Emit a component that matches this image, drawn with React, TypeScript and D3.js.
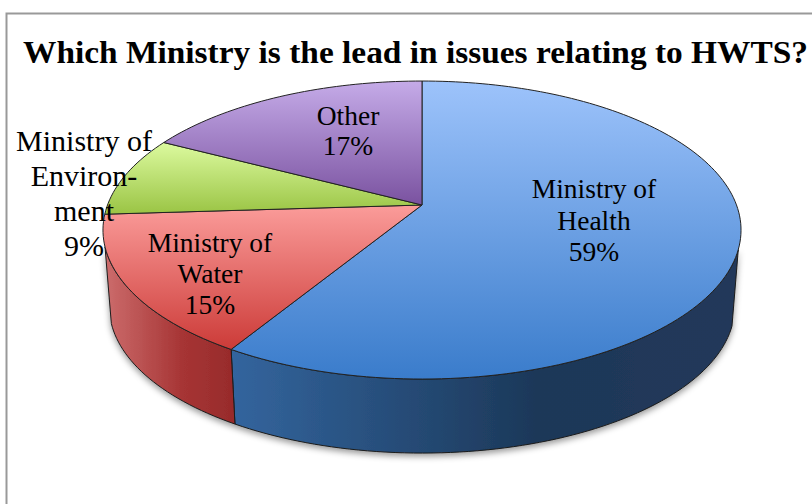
import React from "react";
import * as d3 from "d3";

const categories = ["Ministry of Health", "Ministry of Water", "Ministry of Environment", "Other"];
// the labels show them rounded
const values = [58.7, 15.3, 8.7, 17.3];
const labelLines = [["Ministry of", "Health"], ["Ministry of", "Water"], ["Ministry of", "Environ-", "ment"], ["Other"]];
const labelAnchors = [
  { x: 594, y: 198, step: 31.5, size: 27.5 },
  { x: 210, y: 252, step: 31, size: 27.5 },
  { x: 84, y: 151, step: 35, size: 30 },
  { x: 348, y: 125, step: 30, size: 27.5 },
];
const topColors = [["#9DC3FB", "#3A7CCB"], ["#FB9C9A", "#CC3B38"], ["#DCFA9F", "#9AC444"], ["#C5ABE8", "#7A52A0"]];
const sideColors = [["#33659E", "#1C3859", "#24395A"], ["#CC6C6C", "#A63434", "#972B2B"]];

const FONT = "'Liberation Serif', 'DejaVu Serif', serif";

// perspective projection of the pie's unit circle onto the screen
const cx = 422;
const persp = 0.168;
function project(angle: number, r: number, lower: boolean): [number, number] {
  const X = r * Math.sin(angle);
  const Y = r * Math.cos(angle);
  const w = 1 + persp * Y;
  const scale = lower ? 0.98 : 1;
  const cy = lower ? 282.5 : 205;
  return [cx + (314.5 * scale * X) / w, cy - (144.8 * scale * Y) / w];
}

const line = d3.line<[number, number]>().x((d) => d[0]).y((d) => d[1]);

function rim(a0: number, a1: number, lower: boolean) {
  const n = Math.max(2, Math.ceil(Math.abs(a1 - a0) * 40));
  return d3.range(n + 1).map((i) => project(a0 + ((a1 - a0) * i) / n, 1, lower));
}

// the side wall is only visible between these two angles
const sideStart = (107 / 180) * Math.PI;
const sideEnd = (254 / 180) * Math.PI;

export default function App() {
  const arcs = d3.pie<number>().sort(null)(values);

  const topPath = (a: d3.PieArcDatum<number>) =>
    line([project(0, 0, false), ...rim(a.startAngle, a.endAngle, false)])! + "Z";

  const sideArcs = arcs
    .map((a, i) => ({ i, a0: Math.max(a.startAngle, sideStart), a1: Math.min(a.endAngle, sideEnd) }))
    .filter((d) => d.a1 > d.a0);

  const sidePath = (d: { a0: number; a1: number }) =>
    line([...rim(d.a0, d.a1, false), ...rim(d.a1, d.a0, true)])! + "Z";

  return (
    <svg width={812} height={504} style={{ position: "absolute", left: 0, top: 0, background: "#fff" }}>
      <defs>
        {topColors.map((c, i) => (
          <linearGradient key={i} id={`top${i}`} x1="0" y1="0" x2="0" y2="1">
            <stop offset="0" stopColor={c[0]} />
            <stop offset="1" stopColor={c[1]} />
          </linearGradient>
        ))}
        {sideColors.map((c, i) => (
          <linearGradient key={i} id={`side${i}`} x1="0" y1="0" x2="1" y2="0">
            <stop offset="0" stopColor={c[0]} />
            <stop offset="0.6" stopColor={c[1]} />
            <stop offset="1" stopColor={c[2]} />
          </linearGradient>
        ))}
        <filter id="shadow" x="-5%" y="-5%" width="110%" height="115%">
          <feDropShadow dx="0" dy="3" stdDeviation="3" floodColor="#000" floodOpacity="0.4" />
        </filter>
      </defs>

      <path d="M6.5 504V13.5H812" fill="none" stroke="#999" strokeWidth={2} />

      <text x={23} y={63} fontFamily={FONT} fontWeight="bold" fontSize={32} textLength={785} lengthAdjust="spacingAndGlyphs" fill="#000">
        Which Ministry is the lead in issues relating to HWTS?
      </text>

      <g filter="url(#shadow)">
        {sideArcs.map((d) => (
          <path key={d.i} d={sidePath(d)} fill={`url(#side${d.i})`} stroke="#1a1a1a" strokeWidth={1} strokeLinejoin="round" />
        ))}
      </g>

      {arcs.map((a, i) => (
        <path key={categories[i]} d={topPath(a)} fill={`url(#top${i})`} stroke="#222" strokeWidth={1} strokeLinejoin="round" />
      ))}

      {arcs.map((a, i) => {
        const pos = labelAnchors[i];
        const lines = [...labelLines[i], `${Math.round(values[i])}%`];
        return (
          <text key={categories[i]} textAnchor="middle" fontFamily={FONT} fontSize={pos.size} fill="#000">
            {lines.map((t, j) => (
              <tspan key={j} x={pos.x} y={pos.y + j * pos.step}>{t}</tspan>
            ))}
          </text>
        );
      })}
    </svg>
  );
}
